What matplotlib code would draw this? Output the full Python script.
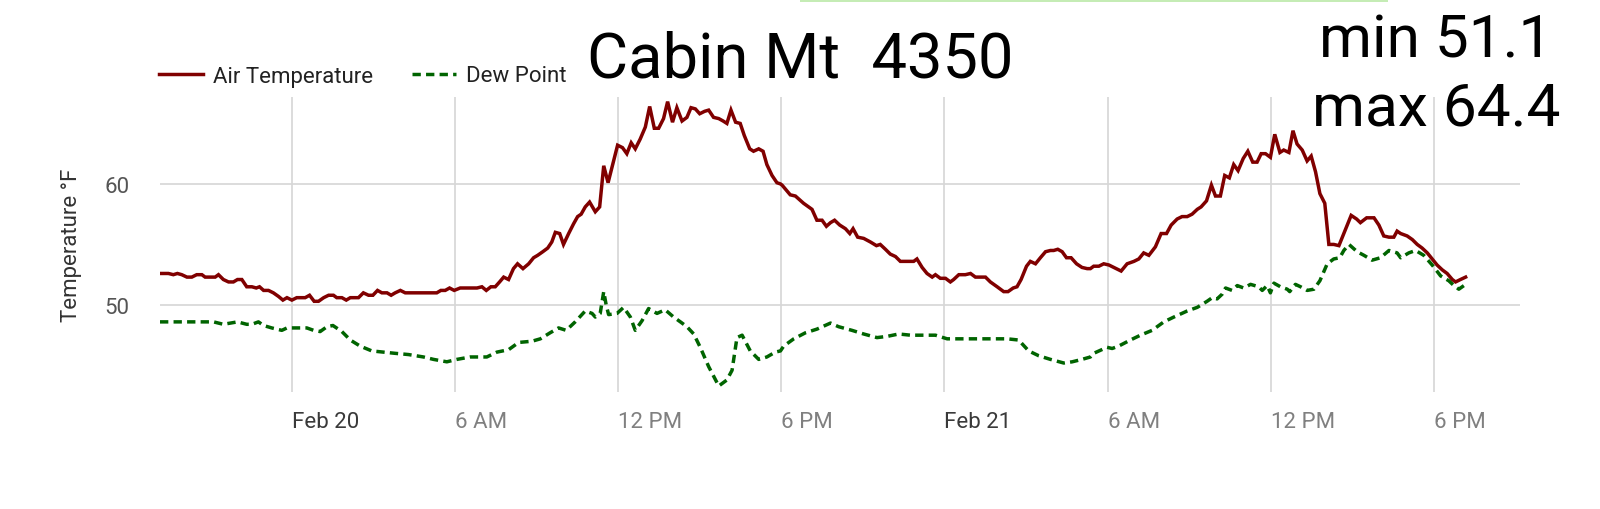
import matplotlib
matplotlib.use("Agg")
import matplotlib.pyplot as plt
import matplotlib.patches as mpatches
import pandas as pd

plt.rcParams['font.family'] = ['Roboto', 'DejaVu Sans']

# ---------------- data (hours relative to Feb 20 00:00) ----------------
air_hours = [-4.85, -4.54, -4.36, -4.21, -4.05, -3.86, -3.68, -3.50, -3.31, -3.19, -2.82, -2.70, -2.52,
             -2.33, -2.15, -2.00, -1.84, -1.66, -1.47, -1.31, -1.19, -1.04, -0.86, -0.68, -0.49, -0.33,
             -0.18, 0.00, 0.18, 0.49, 0.65, 0.82, 0.98, 1.17, 1.35, 1.53, 1.65, 1.84, 2.00, 2.15, 2.45,
             2.63, 2.82, 2.98, 3.15, 3.31, 3.50, 3.65, 3.80, 3.99, 4.17, 5.33, 5.48, 5.64, 5.80, 5.97,
             6.19, 6.81, 6.99, 7.15, 7.32, 7.48, 7.64, 7.79, 7.97, 8.15, 8.30, 8.50, 8.71, 8.89, 9.04,
             9.23, 9.41, 9.56, 9.69, 9.85, 9.99, 10.18, 10.36, 10.51, 10.64, 10.79, 10.95, 11.16, 11.32,
             11.47, 11.63, 11.80, 11.98, 12.16, 12.32, 12.48, 12.63, 12.81, 13.00, 13.16, 13.33, 13.49,
             13.67, 13.82, 14.00, 14.16, 14.35, 14.53, 14.68, 14.84, 15.00, 15.18, 15.33, 15.51, 15.70,
             15.86, 16.00, 16.15, 16.32, 16.49, 16.64, 16.84, 16.98, 17.17, 17.33, 17.47, 17.66, 17.84,
             17.97, 18.03, 18.33, 18.52, 18.82, 19.13, 19.31, 19.50, 19.66, 19.81, 19.96, 20.15, 20.36,
             20.52, 20.64, 20.81, 21.03, 21.28, 21.50, 21.64, 21.83, 22.01, 22.20, 22.38, 22.87, 22.99,
             23.18, 23.36, 23.55, 23.67, 23.85, 24.04, 24.22, 24.34, 24.53, 24.77, 24.96, 25.14, 25.51,
             25.69, 25.94, 26.18, 26.34, 26.53, 26.67, 26.82, 27.02, 27.16, 27.35, 27.53, 27.72, 27.90,
             28.02, 28.17, 28.33, 28.49, 28.66, 28.86, 29.06, 29.25, 29.37, 29.49, 29.68, 29.86, 30.05,
             30.23, 30.50, 30.72, 30.97, 31.15, 31.33, 31.52, 31.76, 31.97, 32.17, 32.34, 32.56, 32.74,
             32.93, 33.11, 33.30, 33.44, 33.64, 33.82, 33.97, 34.15, 34.31, 34.48, 34.64, 34.80, 34.99,
             35.16, 35.34, 35.50, 35.65, 35.81, 35.99, 36.15, 36.34, 36.48, 36.67, 36.82, 36.97, 37.16,
             37.34, 37.49, 37.65, 37.81, 37.99, 38.14, 38.32, 38.51, 38.69, 38.96, 39.16, 39.30, 39.53,
             39.80, 39.98, 40.16, 40.35, 40.53, 40.65, 40.78, 41.02, 41.21, 41.39, 41.57, 41.76, 41.94,
             42.12, 42.31, 42.49, 42.68, 42.80, 42.98, 43.17]
air_temp = [52.6, 52.6, 52.5, 52.6, 52.5, 52.3, 52.3, 52.5, 52.5, 52.3, 52.3, 52.5, 52.1,
            51.9, 51.9, 52.1, 52.1, 51.5, 51.5, 51.4, 51.5, 51.2, 51.2, 51.0, 50.7, 50.4,
            50.6, 50.4, 50.6, 50.6, 50.8, 50.3, 50.3, 50.6, 50.8, 50.8, 50.6, 50.6, 50.4, 50.6, 50.6,
            51.0, 50.8, 50.8, 51.2, 51.0, 51.0, 50.8, 51.0, 51.2, 51.0, 51.0, 51.2, 51.2, 51.4, 51.2,
            51.4, 51.4, 51.5, 51.2, 51.5, 51.5, 51.9, 52.3, 52.1, 53.0, 53.4, 53.0, 53.4, 53.9, 54.1,
            54.4, 54.7, 55.2, 56.0, 55.9, 55.0, 55.9, 56.7, 57.3, 57.5, 58.1, 58.5, 57.7, 58.1,
            61.5, 60.1, 61.6, 63.2, 63.0, 62.5, 63.4, 62.9, 63.7, 64.7, 66.4, 64.6, 64.6,
            65.4, 66.8, 65.1, 66.3, 65.2, 65.5, 66.3, 66.2, 65.8, 66.0, 66.1, 65.5, 65.4,
            65.2, 65.0, 66.1, 65.1, 65.0, 64.0, 62.9, 62.7, 62.9, 62.7, 61.6, 60.7, 60.1,
            60.0, 59.9, 59.1, 59.0, 58.4, 57.9, 57.0, 57.0, 56.5, 56.8, 57.0, 56.6, 56.3,
            55.9, 56.3, 55.6, 55.5, 55.2, 54.9, 55.0, 54.6, 54.2, 54.0, 53.6, 53.6, 53.8,
            53.1, 52.6, 52.3, 52.5, 52.2, 52.2, 51.9, 52.1, 52.5, 52.5, 52.6, 52.3, 52.3,
            51.9, 51.5, 51.1, 51.1, 51.4, 51.5, 52.1, 53.2, 53.6, 53.4, 53.9, 54.4, 54.5,
            54.5, 54.6, 54.4, 53.9, 53.9, 53.4, 53.1, 53.0, 53.0, 53.2, 53.2, 53.4, 53.3,
            53.1, 52.8, 53.4, 53.6, 53.8, 54.3, 54.1, 54.8, 55.9, 55.9, 56.6, 57.1, 57.3,
            57.3, 57.5, 57.9, 58.1, 58.6, 59.9, 59.0, 59.0, 60.7, 60.5, 61.6, 61.1, 62.1,
            62.7, 61.8, 61.8, 62.5, 62.5, 62.2, 64.1, 62.6, 62.8, 62.6, 64.4, 63.3, 62.8,
            61.9, 62.3, 61.0, 59.2, 58.4, 55.0, 55.0, 54.9, 55.9, 57.4, 57.1, 56.8, 57.2,
            57.2, 56.6, 55.7, 55.6, 55.6, 56.1, 55.9, 55.7, 55.4, 55.0, 54.7, 54.3, 53.8,
            53.3, 52.9, 52.6, 52.1, 51.9, 52.1, 52.3]

dew_hours = [-4.85, -4.48, -3.99, -3.37, -2.88, -2.52, -2.00, -1.66, -1.47, -1.23, -1.04, -0.74, -0.37,
             -0.18, 0.18, 0.55, 0.80, 1.04, 1.29, 1.51, 1.84, 2.15, 2.51, 2.94, 3.37, 3.80, 4.29, 4.84,
             5.21, 5.70, 6.07, 6.56, 7.17, 7.54, 7.97, 8.34, 8.83, 9.14, 9.50, 9.81, 10.09, 10.42, 10.79,
             11.04, 11.16, 11.34, 11.47, 11.56, 11.65, 11.96, 12.20, 12.45, 12.63, 12.88, 13.12, 13.43,
             13.73, 14.04, 14.29, 14.53, 14.78, 15.02, 15.33, 15.70, 16.00, 16.19, 16.37, 16.56, 16.86,
             17.17, 17.47, 17.78, 17.97, 18.09, 18.46, 18.89, 19.31, 19.81, 20.11, 20.60, 21.03, 21.52,
             21.89, 22.32, 22.75, 23.24, 23.67, 24.10, 24.53, 24.96, 25.45, 25.94, 26.31, 26.73, 27.10,
             27.47, 27.90, 28.39, 28.70, 29.06, 29.37, 29.49, 29.98, 30.17, 30.41, 30.84, 31.21, 31.64,
             32.07, 32.44, 32.93, 33.30, 33.66, 33.85, 34.03, 34.22, 34.34, 34.58, 34.77, 35.01, 35.26,
             35.56, 35.69, 35.87, 35.99, 36.12, 36.36, 36.61, 36.70, 36.91, 37.10, 37.34, 37.59, 37.81,
             38.08, 38.32, 38.54, 38.69, 38.88, 39.18, 39.43, 39.73, 40.04, 40.35, 40.65, 40.78, 41.08,
             41.33, 41.63, 41.94, 42.25, 42.55, 42.74, 42.92, 43.17]
dew_temp = [48.6, 48.6, 48.6, 48.6, 48.6, 48.4, 48.6, 48.4, 48.4, 48.6, 48.3, 48.1, 47.9,
            48.1, 48.1, 48.1, 47.9, 47.8, 48.2, 48.3, 47.8, 47.1, 46.6, 46.2, 46.1, 46.0, 45.9, 45.7,
            45.5, 45.3, 45.5, 45.7, 45.7, 46.1, 46.3, 46.9, 47.0, 47.2, 47.7, 48.1, 47.9, 48.6, 49.5,
            49.3, 49.0, 49.3, 51.1, 50.0, 49.2, 49.3, 49.8, 49.0, 47.9, 48.7, 49.7, 49.3,
            49.6, 49.0, 48.6, 48.2, 47.6, 46.5, 44.9, 43.3, 43.8, 44.6, 47.3, 47.5, 46.2,
            45.5, 45.7, 46.1, 46.2, 46.6, 47.2, 47.7, 48.0, 48.5, 48.2, 47.9, 47.6, 47.3,
            47.4, 47.6, 47.5, 47.5, 47.5, 47.2, 47.2, 47.2, 47.2, 47.2, 47.2, 47.1, 46.2,
            45.8, 45.5, 45.2, 45.3, 45.5, 45.7, 46.0, 46.5, 46.4, 46.6, 47.1, 47.5, 47.9,
            48.6, 49.0, 49.5, 49.8, 50.3, 50.6, 50.5, 50.9, 51.4, 51.2, 51.6, 51.4, 51.7,
            51.5, 51.2, 51.6, 51.0, 51.8, 51.5, 51.3, 51.1, 51.7, 51.5, 51.2, 51.3, 52.0,
            53.4, 53.8, 53.9, 54.5, 55.0, 54.4, 54.1, 53.7, 53.9, 54.5, 54.3, 53.9, 54.3,
            54.5, 54.1, 53.3, 52.4, 52.0, 51.6, 51.3, 51.7]

tick_hours = [0, 6, 12, 18, 24, 30, 36, 42]
tick_labels = ["Feb 20", "6 AM", "12 PM", "6 PM", "Feb 21", "6 AM", "12 PM", "6 PM"]
y_ticks = [50, 60]

title_text = "Cabin Mt  4350"
min_text = "min 51.1"
max_text = "max 64.4"

# ---------------- figure ----------------
base = pd.Timestamp("2024-02-20 00:00")
air_t = base + pd.to_timedelta(air_hours, unit="h")
dew_t = base + pd.to_timedelta(dew_hours, unit="h")
tick_t = base + pd.to_timedelta(tick_hours, unit="h")

fig = plt.figure(figsize=(16, 5.1), dpi=100)
ax = fig.add_axes([0.1, 0.230, 0.85, 0.578])

l_air, = ax.plot(air_t, air_temp, color="#800000", lw=2.5, label="Air Temperature",
                 solid_joinstyle="miter")
l_dew, = ax.plot(dew_t, dew_temp, color="#006400", lw=2.5, label="Dew Point",
                 dashes=(2.4, 1.5))

ax.set_xlim(air_t[0], air_t[-1] + pd.Timedelta(hours=2.0))
ax.set_ylim(42.83, 67.19)

ax.set_xticks(tick_t)
ax.set_xticklabels(tick_labels, ha="left")
for lab in ax.get_xticklabels():
    lab.set_color("#3a3a3a" if lab.get_text().startswith("Feb") else "#808080")
ax.set_yticks(y_ticks)
ax.tick_params(axis="x", length=0, pad=14, labelsize=16)
ax.tick_params(axis="y", length=0, pad=22, labelsize=16, labelcolor="#555555")

ax.grid(True, color="#d6d6d6", lw=1.2)
ax.set_axisbelow(True)
for s in ax.spines.values():
    s.set_visible(False)

fig.text(71 / 1600, 0.5196, "Temperature °F", rotation=90, ha="center", va="center",
         fontsize=16, color="#333333")

fig.legend(handles=[l_air, l_dew], loc="center left", bbox_to_anchor=(159 / 1600, 1 - 77 / 510),
           ncol=2, frameon=False, fontsize=16, handlelength=2.0, handletextpad=0.42,
           columnspacing=1.75, borderpad=0, borderaxespad=0, labelcolor="#222222")

fig.text(0.5, 1 - 78 / 510, title_text, ha="center", va="baseline", fontsize=45.5, color="black")
fig.text(1436 / 1600, 1 - 58 / 510, min_text, ha="center", va="baseline", fontsize=43.5, color="black")
fig.text(1436 / 1600, 1 - 125 / 510, max_text, ha="center", va="baseline", fontsize=43.5, color="black")

# thin light-green strip along the top edge
fig.patches.append(mpatches.Rectangle((800 / 1600, 1 - 3 / 510), 588 / 1600, 3 / 510,
                                      transform=fig.transFigure, color="#c5ecb5", lw=0))

fig.savefig("out.png", dpi=100)
